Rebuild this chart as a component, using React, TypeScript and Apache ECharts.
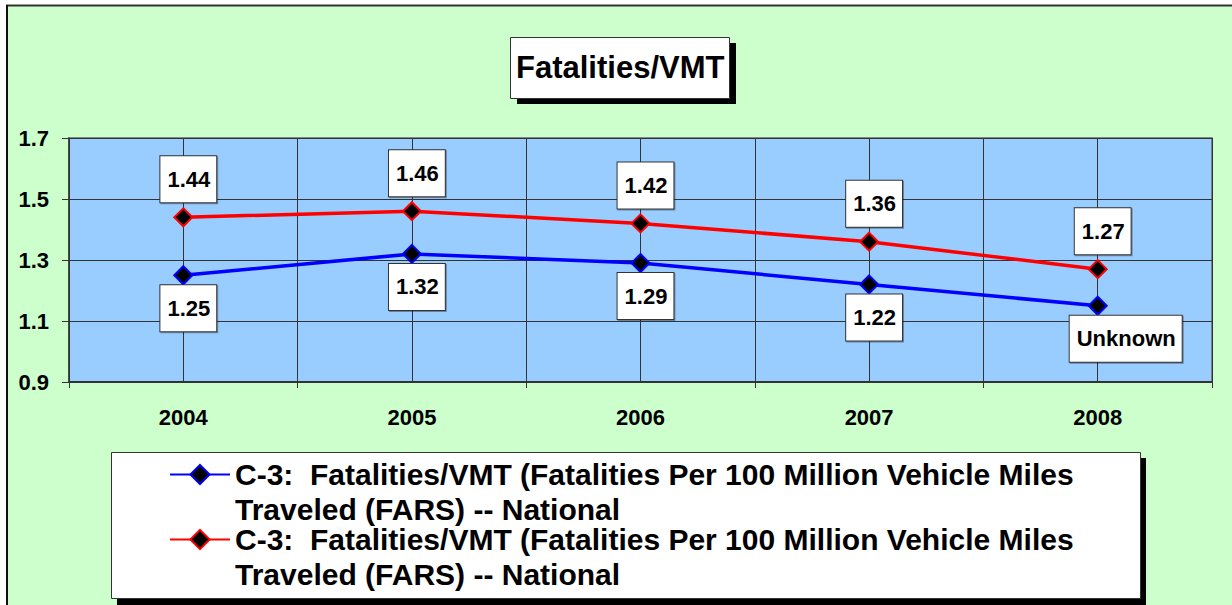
import React, { useEffect, useRef } from "react";
import * as echarts from "echarts";

const years = ["2004", "2005", "2006", "2007", "2008"];
const nationalBlue = [1.25, 1.32, 1.29, 1.22, 1.15];
const nationalRed = [1.44, 1.46, 1.42, 1.36, 1.27];
const blueLabels = ["1.25", "1.32", "1.29", "1.22", "Unknown"];
const redLabels = ["1.44", "1.46", "1.42", "1.36", "1.27"];
const yMin = 0.9;
const yMax = 1.7;
const yStep = 0.2;
const titleText = "Fatalities/VMT";
const legendText = "C-3:  Fatalities/VMT (Fatalities Per 100 Million Vehicle Miles\nTraveled (FARS) -- National";
const seriesNames = ["C-3 National (blue)", "C-3 National (red)"];

const FONT = "'Liberation Sans', Arial, Helvetica, sans-serif";

export default function App() {
  const ref = useRef<HTMLDivElement>(null);
  useEffect(() => {
    if (!ref.current) return;
    const chart = echarts.init(ref.current, undefined, { renderer: "svg" });
    const labelBase = {
      show: true,
      distance: 6,
      offset: [5, 0],
      backgroundColor: "#fff",
      borderColor: "#333",
      borderWidth: 1,
      padding: [12, 6, 12, 7],
      fontSize: 22,
      lineHeight: 22,
      fontWeight: "bold",
      fontFamily: FONT,
      color: "#000",
      shadowColor: "rgba(0,0,0,0.35)",
      shadowOffsetX: 1,
      shadowOffsetY: 1,
      shadowBlur: 1,
    };
    const option: any = {
      animation: false,
      backgroundColor: "#CCFFCC",
      title: {
        text: titleText,
        left: 516,
        top: 52,
        padding: 0,
        textStyle: { fontSize: 31, fontWeight: "bold", color: "#000", fontFamily: FONT },
        z: 10,
      },
      graphic: [
        { type: "rect", z: 1, shape: { x: 0, y: 0, width: 1232, height: 5 }, style: { fill: "#fff" } },
        { type: "rect", z: 1, shape: { x: 0, y: 0, width: 6, height: 605 }, style: { fill: "#fff" } },
        { type: "line", z: 1, shape: { x1: 6, y1: 5.5, x2: 1232, y2: 5.5 }, style: { stroke: "#333", lineWidth: 2 } },
        { type: "line", z: 1, shape: { x1: 7, y1: 5, x2: 7, y2: 605 }, style: { stroke: "#111", lineWidth: 2 } },
        { type: "rect", z: 1, shape: { x: 517, y: 43, width: 219, height: 61 }, style: { fill: "#000" } },
        { type: "rect", z: 1, shape: { x: 510.5, y: 37.5, width: 219, height: 61 }, style: { fill: "#fff", stroke: "#333", lineWidth: 1 } },
        { type: "rect", z: 1, shape: { x: 117, y: 458, width: 1029, height: 150 }, style: { fill: "#000" } },
        { type: "rect", z: 1, shape: { x: 111.5, y: 452.5, width: 1029, height: 146 }, style: { fill: "#fff", stroke: "#333", lineWidth: 1 } },
      ],
      legend: {
        data: seriesNames,
        orient: "vertical",
        left: 169,
        top: 422,
        padding: 0,
        itemWidth: 60,
        itemHeight: 24,
        itemGap: -40,
        formatter: () => "\n" + legendText,
        textStyle: {
          fontSize: 30,
          fontWeight: "bold",
          color: "#000",
          fontFamily: FONT,
          lineHeight: 35,
        },
        z: 10,
      },
      grid: {
        left: 69,
        right: 20,
        top: 138,
        bottom: 223,
        show: true,
        backgroundColor: "#99CCFF",
        borderColor: "#666",
        borderWidth: 1.5,
      },
      xAxis: [
        {
          type: "category",
          data: years,
          boundaryGap: true,
          position: "bottom",
          axisLine: { show: true, lineStyle: { color: "#333", width: 2 } },
          axisTick: { show: true, length: 6, inside: false, lineStyle: { color: "#333", width: 1 } },
          axisLabel: { fontSize: 22, fontWeight: "bold", color: "#000", fontFamily: FONT, margin: 24 },
          splitLine: { show: false },
        },
        {
          type: "value",
          min: 0,
          max: 10,
          interval: 1,
          position: "top",
          axisLine: { show: false },
          axisTick: { show: false },
          axisLabel: { show: false },
          splitLine: { show: true, lineStyle: { color: "#333", width: 1 } },
        },
      ],
      yAxis: {
        type: "value",
        min: yMin,
        max: yMax,
        interval: yStep,
        axisLine: { show: true, lineStyle: { color: "#333", width: 1.5 } },
        axisTick: { show: true, length: 7, inside: false, lineStyle: { color: "#333", width: 1 } },
        axisLabel: {
          fontSize: 22,
          fontWeight: "bold",
          color: "#000",
          fontFamily: FONT,
          margin: 20,
          formatter: (v: number) => v.toFixed(1),
        },
        splitLine: { show: true, lineStyle: { color: "#333", width: 1 } },
      },
      series: [
        {
          name: seriesNames[0],
          type: "line",
          xAxisIndex: 0,
          data: nationalBlue.map((v, i) =>
            i === 4 ? { value: v, label: { offset: [28, 0] } } : v
          ),
          symbol: "diamond",
          symbolSize: 18,
          lineStyle: { color: "#0000FF", width: 3.5 },
          itemStyle: { color: "#000", borderColor: "#0000FF", borderWidth: 2 },
          label: {
            ...labelBase,
            position: "bottom",
            distance: 0,
            formatter: (p: any) => blueLabels[p.dataIndex],
          },
          z: 3,
        },
        {
          name: seriesNames[1],
          type: "line",
          xAxisIndex: 0,
          data: nationalRed,
          symbol: "diamond",
          symbolSize: 18,
          lineStyle: { color: "#FF0000", width: 3.5 },
          itemStyle: { color: "#000", borderColor: "#FF0000", borderWidth: 2 },
          label: {
            ...labelBase,
            position: "top",
            distance: 5,
            formatter: (p: any) => redLabels[p.dataIndex],
          },
          z: 3,
        },
      ],
    };
    chart.setOption(option);
    return () => chart.dispose();
  }, []);
  return (
    <div
      ref={ref}
      style={{ position: "absolute", left: 0, top: 0, width: 1232, height: 605 }}
    />
  );
}
